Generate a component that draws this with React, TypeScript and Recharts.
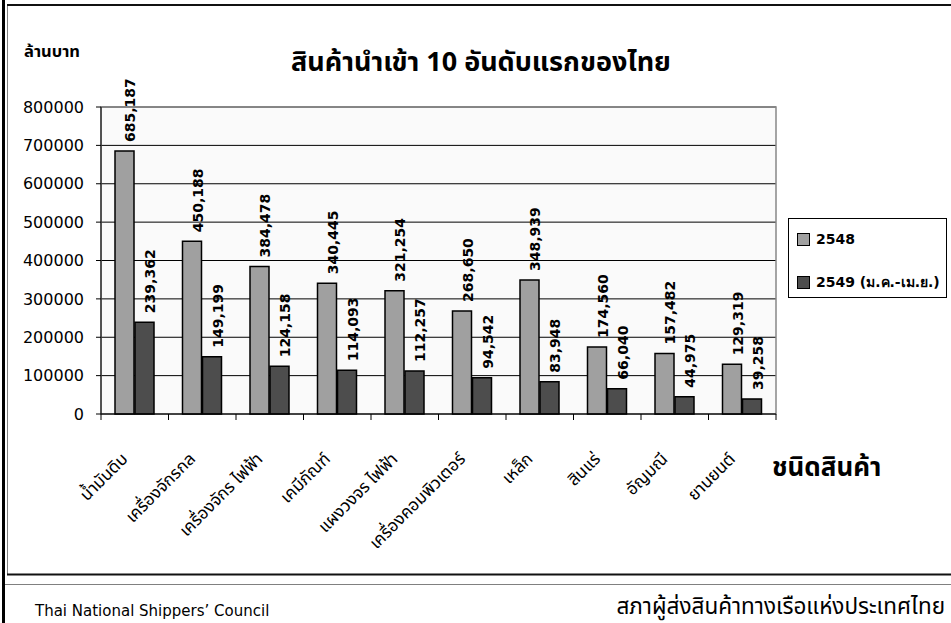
import React from 'react';
import { BarChart, Bar, XAxis, YAxis, CartesianGrid, ReferenceArea, LabelList } from 'recharts';

const categories = ['น้ำมันดิบ', 'เครื่องจักรกล', 'เครื่องจักร ไฟฟ้า', 'เคมีภัณฑ์', 'แผงวงจร ไฟฟ้า', 'เครื่องคอมพิวเตอร์', 'เหล็ก', 'สินแร่', 'อัญมณี', 'ยานยนต์'];
const imports2548 = [685187, 450188, 384478, 340445, 321254, 268650, 348939, 174560, 157482, 129319];
const imports2549 = [239362, 149199, 124158, 114093, 112257, 94542, 83948, 66040, 44975, 39258];
const seriesNames = ['2548', '2549 (ม.ค.-เม.ย.)'];
const seriesColors = ['#a0a0a0', '#4d4d4d'];
const yTicks = [0, 100000, 200000, 300000, 400000, 500000, 600000, 700000, 800000];

const title = 'สินค้านำเข้า 10 อันดับแรกของไทย';
const yUnit = 'ล้านบาท';
const xTitle = 'ชนิดสินค้า';
const footerLeft = 'Thai National Shippers\u2019 Council';
const footerRight = 'สภาผู้ส่งสินค้าทางเรือแห่งประเทศไทย';

const data = categories.map((name, i) => ({ name, a: imports2548[i], b: imports2549[i] }));

const SANS = "'DejaVu Sans', Verdana, sans-serif";
const THAI = "Tahoma, 'Noto Sans Thai', 'Noto Sans', 'DejaVu Sans', sans-serif";

const XTick = (props: any) => {
  const { x, y, payload, index, width } = props;
  const band = (typeof width === 'number' && width > 0 ? width : 675) / categories.length;
  const ax = x - 6;
  const ay = y + 46;
  const left = x - band / 2;
  const right = x + band / 2;
  return (
    <g>
      <line x1={left} y1={y} x2={left} y2={y + 6} stroke="#000" strokeWidth={1} />
      {index === categories.length - 1 && <line x1={right} y1={y} x2={right} y2={y + 6} stroke="#000" strokeWidth={1} />}
      <text x={ax} y={ay} transform={`rotate(-45 ${ax} ${ay})`} textAnchor="end" fontSize={17} fontFamily={THAI} fill="#000">
        {payload.value}
      </text>
    </g>
  );
};

const ValueLabel = (props: any) => {
  const { x, y, width, value } = props;
  const cx = x + width / 2 + 6;
  const cy = y - 9;
  return (
    <text x={cx} y={cy} transform={`rotate(-90 ${cx} ${cy})`} textAnchor="start" dominantBaseline="central" fontSize={14} fontWeight="bold" fontFamily={SANS} fill="#000">
      {Number(value).toLocaleString('en-US')}
    </text>
  );
};

export default function App() {
  return (
    <div style={{ position: 'absolute', left: 0, top: 0, width: 951, height: 623, background: '#fff', overflow: 'hidden' }}>
      <BarChart
        width={951}
        height={623}
        data={data}
        margin={{ top: 107, right: 175, bottom: 149, left: 8 }}
        barCategoryGap={14}
        barGap={1}
      >
        <CartesianGrid vertical={false} horizontal={true} stroke="#000" strokeWidth={1} fill="#fafafa" fillOpacity={1} />
        <ReferenceArea y1={0} y2={800000} fill="none" stroke="#888" strokeWidth={1.5} />
        <XAxis
          dataKey="name"
          interval={0}
          axisLine={{ stroke: '#000', strokeWidth: 1 }}
          tickLine={false}
          tickSize={0}
          tickMargin={0}
          height={60}
          tick={<XTick />}
        />
        <YAxis
          width={93}
          domain={[0, 800000]}
          ticks={yTicks}
          interval={0}
          tickSize={5}
          tickMargin={12}
          axisLine={{ stroke: '#000', strokeWidth: 1 }}
          tickLine={{ stroke: '#000', strokeWidth: 1 }}
          tick={{ fontSize: 16, fontFamily: SANS, fill: '#000' }}
          tickFormatter={(v: number) => String(v)}
        />
        <Bar dataKey="a" name={seriesNames[0]} fill={seriesColors[0]} stroke="#000" strokeWidth={1.5} isAnimationActive={false}>
          <LabelList dataKey="a" content={<ValueLabel />} />
        </Bar>
        <Bar dataKey="b" name={seriesNames[1]} fill={seriesColors[1]} stroke="#000" strokeWidth={1.5} isAnimationActive={false}>
          <LabelList dataKey="b" content={<ValueLabel />} />
        </Bar>
      </BarChart>

      <svg width={951} height={623} style={{ position: 'absolute', left: 0, top: 0, pointerEvents: 'none' }}>
        <rect x={2} y={0} width={3} height={623} fill="#000" />
        <line x1={7.5} y1={5} x2={7.5} y2={575} stroke="#808080" strokeWidth={1} />
        <line x1={7} y1={5} x2={951} y2={5} stroke="#111" strokeWidth={2} />
        <line x1={7} y1={574.5} x2={951} y2={574.5} stroke="#111" strokeWidth={2} />
        <line x1={5} y1={584.5} x2={951} y2={584.5} stroke="#808080" strokeWidth={1} />
        <text x={24} y={57} fontSize={16.5} fontWeight="bold" fontFamily={THAI} fill="#000">{yUnit}</text>
        <text x={481} y={71} textAnchor="middle" fontSize={27} fontWeight="bold" fontFamily={THAI} fill="#000">{title}</text>
        <text x={772} y={476} fontSize={26} fontWeight="bold" fontFamily={THAI} fill="#000">{xTitle}</text>
        <text x={35} y={616} fontSize={15} fontFamily={SANS} fill="#000">{footerLeft}</text>
        <text x={945} y={614} textAnchor="end" fontSize={22.5} fontFamily={THAI} fill="#000">{footerRight}</text>
      </svg>

      <div style={{ position: 'absolute', left: 788, top: 218, width: 157, height: 78, border: '1px solid #000', background: '#fff', overflow: 'hidden', fontFamily: SANS, fontSize: 14, fontWeight: 'bold', whiteSpace: 'nowrap' }}>
        {seriesNames.map((n, i) => (
          <div key={n} style={{ position: 'absolute', left: 8, top: 13 + i * 43, display: 'flex', alignItems: 'center', height: 14 }}>
            <span style={{ display: 'inline-block', width: 11, height: 11, background: seriesColors[i], border: '1px solid #000', marginRight: 6 }} />
            <span>{n}</span>
          </div>
        ))}
      </div>
    </div>
  );
}
